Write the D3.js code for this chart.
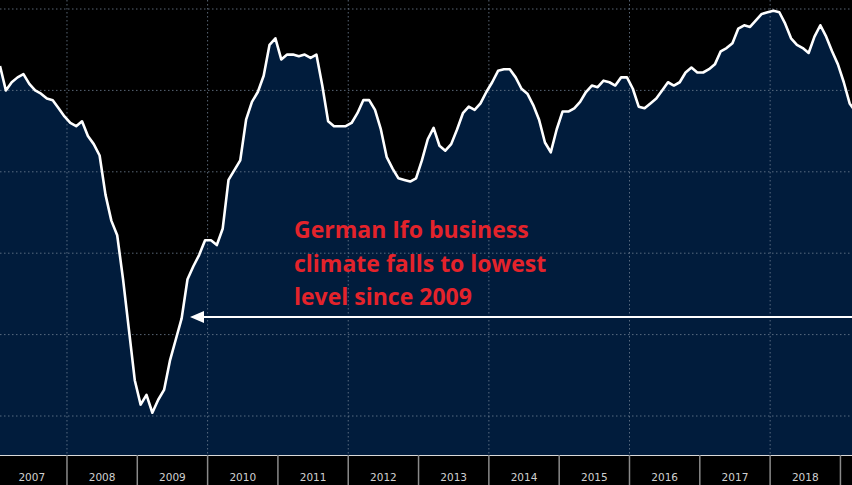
<!DOCTYPE html>
<html><head><meta charset="utf-8">
<script src="https://cdn.jsdelivr.net/npm/d3@7"></script>
<style>html,body{margin:0;padding:0;background:#000;overflow:hidden}</style>
</head><body><svg id="c" width="852" height="485"></svg>
<script>
const startYear = 2007;
const years = [2007,2008,2009,2010,2011,2012,2013,2014,2015,2016,2017,2018,2019];
const gridValues = [105,100,95,90,85,80];
const ifo = [101.5,100.0,100.5,100.8,101.0,100.4,100.0,99.8,99.5,99.4,98.9,98.4,
98.0,97.8,98.1,97.2,96.7,96.0,93.6,92.0,91.1,88.4,85.3,82.2,
80.7,81.3,80.2,81.0,81.6,83.4,84.7,86.0,88.4,89.2,89.9,90.8,
90.8,90.5,91.5,94.5,95.1,95.7,98.2,99.3,99.9,100.9,102.8,103.2,
101.9,102.2,102.2,102.1,102.2,102.0,102.2,100.3,98.1,97.8,97.8,97.8,
98.0,98.6,99.4,99.4,98.8,97.6,95.9,95.2,94.6,94.5,94.4,94.6,
95.7,97.0,97.7,96.6,96.3,96.7,97.6,98.6,99.0,98.8,99.2,99.9,
100.5,101.2,101.3,101.3,100.8,100.1,99.8,99.1,98.2,96.8,96.2,97.6,
98.7,98.7,98.9,99.3,99.9,100.3,100.2,100.6,100.5,100.3,100.8,100.8,
100.1,99.0,98.9,99.2,99.5,100.0,100.5,100.3,100.5,101.1,101.4,101.1,
101.1,101.3,101.6,102.4,102.6,102.9,103.8,104.0,103.9,104.3,104.7,104.8,
104.9,104.8,104.1,103.2,102.8,102.6,102.3,103.3,104.0,103.3,102.4,101.6,
100.5,99.2,98.7];
const noteLines = ["German Ifo business","climate falls to lowest","level since 2009"];

const W=852,H=485,axisY=455;
const svg=d3.select("#c");
const x=d3.scaleLinear().domain([0,146]).range([0,855.5]);
const y=d3.scaleLinear().domain([105,80]).range([9,416]);
const yearStart=yr=>(yr-startYear)*12-0.57;

svg.append("rect").attr("width",W).attr("height",H).attr("fill","#000");
const area=d3.area().x((d,i)=>x(i)).y0(axisY).y1(d=>y(d));
svg.append("path").datum(ifo).attr("d",area).attr("fill","#011c3c");

svg.selectAll(".hg").data(gridValues).join("line")
 .attr("x1",0).attr("x2",W).attr("y1",d=>y(d)).attr("y2",d=>y(d))
 .attr("stroke","#6f7f92").attr("stroke-width",1).attr("stroke-dasharray","1.5,2.5").attr("opacity",0.8);
svg.selectAll(".vg").data(years.filter(d=>d%2===0)).join("line")
 .attr("x1",d=>x(yearStart(d))).attr("x2",d=>x(yearStart(d))).attr("y1",0).attr("y2",axisY)
 .attr("stroke","#6f7f92").attr("stroke-width",1).attr("stroke-dasharray","1.5,2.5").attr("opacity",0.8);

const line=d3.line().x((d,i)=>x(i)).y(d=>y(d));
svg.append("path").datum(ifo).attr("d",line).attr("fill","none")
 .attr("stroke","#fff").attr("stroke-width",2.6).attr("stroke-linejoin","round");

svg.append("rect").attr("x",0).attr("y",axisY).attr("width",W).attr("height",H-axisY).attr("fill","#000");
svg.append("line").attr("x1",0).attr("x2",W).attr("y1",axisY+0.5).attr("y2",axisY+0.5).attr("stroke","#d8d8d8").attr("stroke-width",1);
svg.selectAll(".sep").data(years.slice(1)).join("line")
 .attr("x1",d=>x(yearStart(d))).attr("x2",d=>x(yearStart(d))).attr("y1",axisY).attr("y2",H)
 .attr("stroke","#8a8a8a").attr("stroke-width",1.5);
svg.selectAll(".yl").data(years.slice(0,12)).join("text")
 .attr("x",d=>x(yearStart(d)+6)).attr("y",481).attr("text-anchor","middle")
 .attr("fill","#d0d0d0").attr("font-family","DejaVu Sans, sans-serif").attr("font-size",10.5)
 .text(d=>d);

svg.selectAll(".note").data(noteLines).join("text")
 .attr("x",294).attr("y",(d,i)=>238+i*33.5)
 .attr("fill","#e4232b").attr("font-family","Open Sans, sans-serif").attr("font-weight","bold")
 .attr("font-size",23).text(d=>d);
svg.append("line").attr("x1",W).attr("x2",200).attr("y1",317).attr("y2",317).attr("stroke","#fff").attr("stroke-width",2);
svg.append("path").attr("d","M190,317 L204,311 L204,323 Z").attr("fill","#fff");
</script></body></html>
